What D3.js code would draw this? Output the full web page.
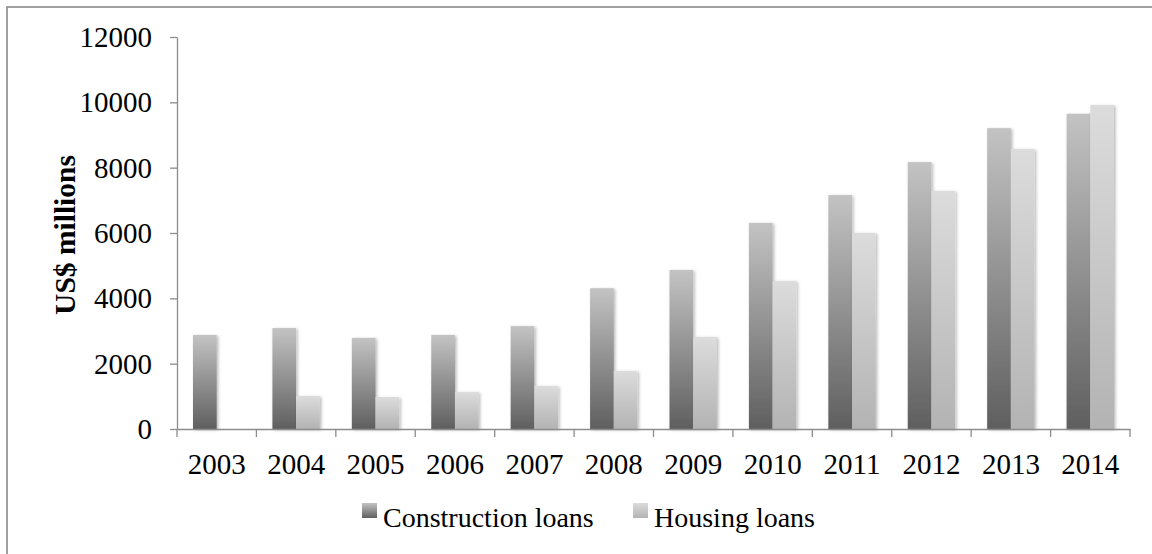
<!DOCTYPE html>
<html>
<head>
<meta charset="utf-8">
<script src="https://cdn.jsdelivr.net/npm/d3@7"></script>
<style>
  html, body { margin: 0; padding: 0; background: #fff; }
  svg { display: block; }
  text { font-family: "Liberation Serif", serif; fill: #000; }
</style>
</head>
<body>
<svg id="chart" width="1152" height="554"></svg>
<script>
const years = ["2003","2004","2005","2006","2007","2008","2009","2010","2011","2012","2013","2014"];
const constructionLoans = [2880, 3090, 2790, 2880, 3150, 4310, 4870, 6310, 7160, 8170, 9210, 9650];
const housingLoans = [0, 1010, 980, 1130, 1320, 1780, 2820, 4530, 6000, 7290, 8570, 9920];
const seriesNames = ["Construction loans", "Housing loans"];
const yTicks = [0, 2000, 4000, 6000, 8000, 10000, 12000];
const yTitle = "US$ millions";

(function () {
const svg = d3.select("#chart");
const pLeft = 177, pRight = 1130, pTop = 37, pBottom = 429;

// frame
svg.append("rect").attr("x", 7).attr("y", 7).attr("width", 1200).attr("height", 600)
  .attr("fill", "none").attr("stroke", "#898989").attr("stroke-width", 1.6);

const defs = svg.append("defs");
function grad(id, bottomCol, topCol) {
  const g = defs.append("linearGradient").attr("id", id)
    .attr("x1", 0).attr("y1", 1).attr("x2", 0).attr("y2", 0);
  g.append("stop").attr("offset", "0%").attr("stop-color", bottomCol);
  g.append("stop").attr("offset", "100%").attr("stop-color", topCol);
}
grad("gC", "#5f5f5f", "#c3c3c3");
grad("gH", "#b3b3b3", "#dcdcdc");
const f = defs.append("filter").attr("id", "sh").attr("x", "-30%").attr("y", "-10%").attr("width", "160%").attr("height", "120%");
f.append("feDropShadow").attr("dx", 1.5).attr("dy", 1).attr("stdDeviation", 1.8)
  .attr("flood-color", "#000").attr("flood-opacity", 0.28);

const x = d3.scaleBand().domain(years).range([pLeft, pRight]).padding(0);
const xs = d3.scaleBand().domain(seriesNames).range([0, x.bandwidth()]).paddingInner(0).paddingOuter(0.675);
const y = d3.scaleLinear().domain([0, 12000]).range([pBottom, pTop]);

const data = years.map((yr, i) => ({ year: yr, vals: [constructionLoans[i], housingLoans[i]] }));
const fills = ["url(#gC)", "url(#gH)"];

const groups = svg.append("g").selectAll("g").data(data).join("g")
  .attr("transform", d => `translate(${x(d.year)},0)`);
groups.selectAll("rect").data(d => d.vals.map((v, k) => ({ v, k })).filter(o => o.v > 0)).join("rect")
  .attr("x", o => xs(seriesNames[o.k]))
  .attr("width", xs.bandwidth())
  .attr("y", o => y(o.v))
  .attr("height", o => y(0) - y(o.v))
  .attr("fill", o => fills[o.k])
  .attr("filter", "url(#sh)");

const numFont = "Liberation Serif";
// y axis
const yAxis = svg.append("g").attr("transform", `translate(${pLeft},0)`)
  .call(d3.axisLeft(y).tickValues(yTicks).tickSize(7).tickSizeOuter(0).tickPadding(18).tickFormat(d3.format("d")));
yAxis.select(".domain").attr("stroke", "#8c8c8c").attr("stroke-width", 1.3);
yAxis.selectAll(".tick line").attr("stroke", "#8c8c8c").attr("stroke-width", 1.3);
yAxis.selectAll("text").attr("font-size", 29).attr("font-family", numFont).attr("dy", "0.33em");

// x axis
const xAxis = svg.append("g").attr("transform", `translate(0,${pBottom})`)
  .call(d3.axisBottom(x).tickSize(0).tickSizeOuter(0).tickPadding(24));
xAxis.select(".domain").attr("stroke", "#8c8c8c").attr("stroke-width", 1.3);
xAxis.selectAll("text").attr("font-size", 29).attr("font-family", numFont);
const bounds = years.map(d => x(d)).concat([pRight]);
xAxis.selectAll("line.bnd").data(bounds).join("line").attr("class", "bnd")
  .attr("x1", d => d).attr("x2", d => d).attr("y1", 0).attr("y2", 8)
  .attr("stroke", "#8c8c8c").attr("stroke-width", 1.3);

// y title
svg.append("text")
  .attr("transform", `translate(75,${(pTop + pBottom) / 2 + 2}) rotate(-90)`)
  .attr("text-anchor", "middle")
  .attr("font-weight", "bold").attr("font-size", 29.5)
  .text(yTitle);

// legend
const legX = [362, 633];
const lg = svg.append("g").selectAll("g").data(seriesNames).join("g")
  .attr("transform", (d, i) => `translate(${legX[i]},503)`);
lg.append("rect").attr("width", 15).attr("height", 15).attr("fill", (d, i) => fills[i]);
lg.append("text").attr("x", 21).attr("y", 24).attr("font-size", 28).text(d => d);
})();
</script>
</body>
</html>
